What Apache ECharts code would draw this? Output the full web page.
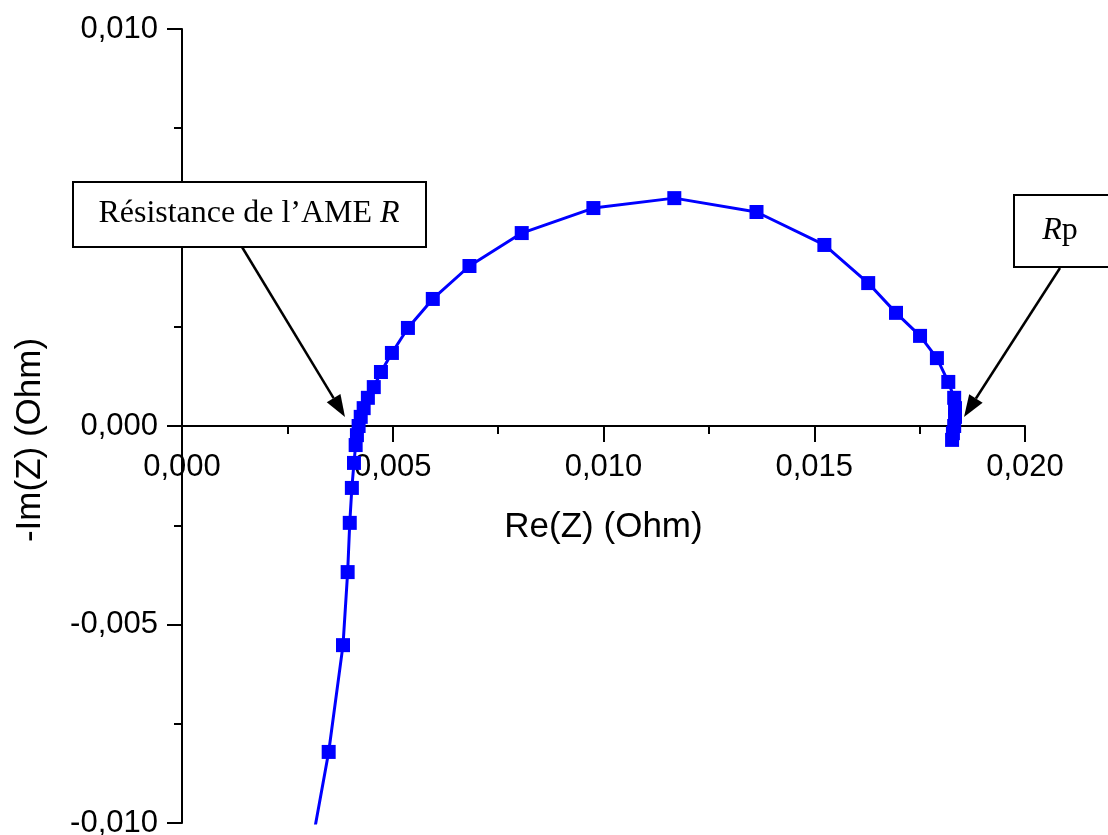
<!DOCTYPE html>
<html>
<head>
<meta charset="utf-8">
<script src="https://cdn.jsdelivr.net/npm/echarts@6/dist/echarts.min.js"></script>
<style>
html,body{margin:0;padding:0;background:#fff;}
#chart{width:1108px;height:835px;}
</style>
</head>
<body>
<div id="chart"></div>
<script>
// Re(Z) and -Im(Z) in Ohm, in measurement order (first point is the off-scale tail)
const reZ = [0.00314, 0.00348, 0.00382, 0.00393, 0.00398, 0.00403, 0.00408, 0.00412, 0.00415, 0.00419,
  0.00424, 0.00431, 0.00441, 0.00455, 0.00472, 0.00498, 0.00536, 0.00595, 0.00682, 0.00806,
  0.00976, 0.01168, 0.01363, 0.01524, 0.01628, 0.01694, 0.01751, 0.01791, 0.01818, 0.01832,
  0.01834, 0.01834, 0.01832, 0.01829, 0.01827];
const negImZ = [-0.0102, -0.00821, -0.00552, -0.00368, -0.00244, -0.00156, -0.00093, -0.00048, -0.00023, 0.0,
  0.00023, 0.00045, 0.00071, 0.00098, 0.00136, 0.00184, 0.00247, 0.00320, 0.00403, 0.00486,
  0.00549, 0.00574, 0.00539, 0.00456, 0.00360, 0.00285, 0.00227, 0.00171, 0.00111, 0.00071,
  0.00045, 0.00023, 0.0, -0.00018, -0.00035];
const xTicks = { min: 0, max: 0.020, step: 0.005 };
const yTicks = { min: -0.010, max: 0.010, step: 0.005 };
const xTitle = 'Re(Z) (Ohm)';
const yTitle = '-Im(Z) (Ohm)';
const labelR = 'Résistance de l’AME ';
const labelRp = 'p';

const fmt = v => v.toFixed(3).replace('.', ',');
const seriesData = reZ.map((x, i) => {
  const item = { value: [x, negImZ[i]] };
  if (i === 0) item.symbol = 'none';
  return item;
});

function arrow(x1, y1, x2, y2) {
  const a = Math.atan2(y2 - y1, x2 - x1);
  const L = 22, W = 8;
  const bx = x2 - L * Math.cos(a), by = y2 - L * Math.sin(a);
  const px = -Math.sin(a), py = Math.cos(a);
  return [
    { type: 'line', z: 100, shape: { x1: x1, y1: y1, x2: bx, y2: by }, style: { stroke: '#000', lineWidth: 2.5 } },
    { type: 'polygon', z: 100, shape: { points: [[x2, y2], [bx + W * px, by + W * py], [bx - W * px, by - W * py]] }, style: { fill: '#000' } }
  ];
}

const H = 835, gridTop = 29, gridBottom = 12;
const plotH = H - gridTop - gridBottom;
// x axis sits at -Im(Z)=0, i.e. fraction of the y range from the bottom
const zeroFrac = (0 - yTicks.min) / (yTicks.max - yTicks.min);
const xOffset = -plotH * zeroFrac;

const chart = echarts.init(document.getElementById('chart'), null, { renderer: 'canvas' });
const axisFont = 'Liberation Sans';
const serifRich = {
  n: { fontFamily: 'Liberation Serif', fontSize: 32, fill: '#000' },
  i: { fontFamily: 'Liberation Serif', fontSize: 32, fontStyle: 'italic', fill: '#000' }
};
chart.setOption({
  animation: false,
  backgroundColor: '#fff',
  grid: { left: 182, right: 83, top: gridTop, bottom: gridBottom, containLabel: false, outerBoundsMode: 'none' },
  xAxis: {
    type: 'value', min: xTicks.min, max: xTicks.max, interval: xTicks.step,
    position: 'bottom', offset: xOffset,
    name: xTitle, nameLocation: 'middle', nameGap: 84,
    nameTextStyle: { fontFamily: axisFont, fontSize: 35, color: '#000' },
    axisLine: { onZero: false, lineStyle: { color: '#000', width: 2 } },
    axisTick: { show: true, length: 16, lineStyle: { color: '#000', width: 2 } },
    minorTick: { show: true, splitNumber: 2, length: 8, lineStyle: { color: '#000', width: 2 } },
    splitLine: { show: false },
    axisLabel: { formatter: fmt, fontFamily: axisFont, fontSize: 31, color: '#000', margin: 26 }
  },
  yAxis: {
    type: 'value', min: yTicks.min, max: yTicks.max, interval: yTicks.step,
    position: 'left',
    axisLine: { onZero: false, lineStyle: { color: '#000', width: 2 } },
    axisTick: { show: true, length: 15, lineStyle: { color: '#000', width: 2 } },
    minorTick: { show: true, splitNumber: 2, length: 8, lineStyle: { color: '#000', width: 2 } },
    splitLine: { show: false },
    axisLabel: { formatter: fmt, fontFamily: axisFont, fontSize: 31, color: '#000', margin: 24 }
  },
  series: [{
    type: 'line', data: seriesData, clip: true,
    symbol: 'rect', symbolSize: 14,
    itemStyle: { color: '#0000FF' },
    lineStyle: { color: '#0000FF', width: 3 },
    z: 5
  }],
  graphic: [
    { type: 'text', z: 100, x: 30, y: 440, rotation: Math.PI / 2,
      style: { text: yTitle, font: '35px "Liberation Sans"', fill: '#000', align: 'center', verticalAlign: 'middle' } },
    { type: 'rect', z: 100, shape: { x: 73, y: 182, width: 353, height: 65 },
      style: { fill: '#fff', stroke: '#000', lineWidth: 2 } },
    { type: 'text', z: 101, x: 249, y: 214,
      style: { text: '{n|' + labelR + '}{i|R}', align: 'center', verticalAlign: 'middle', rich: serifRich } },
    { type: 'rect', z: 100, shape: { x: 1014, y: 195, width: 120, height: 72 },
      style: { fill: '#fff', stroke: '#000', lineWidth: 2 } },
    { type: 'text', z: 101, x: 1060, y: 231,
      style: { text: '{i|R}{n|' + labelRp + '}', align: 'center', verticalAlign: 'middle', rich: serifRich } }
  ].concat(arrow(242, 247, 345, 417)).concat(arrow(1060, 268, 964, 417))
});
</script>
</body>
</html>
